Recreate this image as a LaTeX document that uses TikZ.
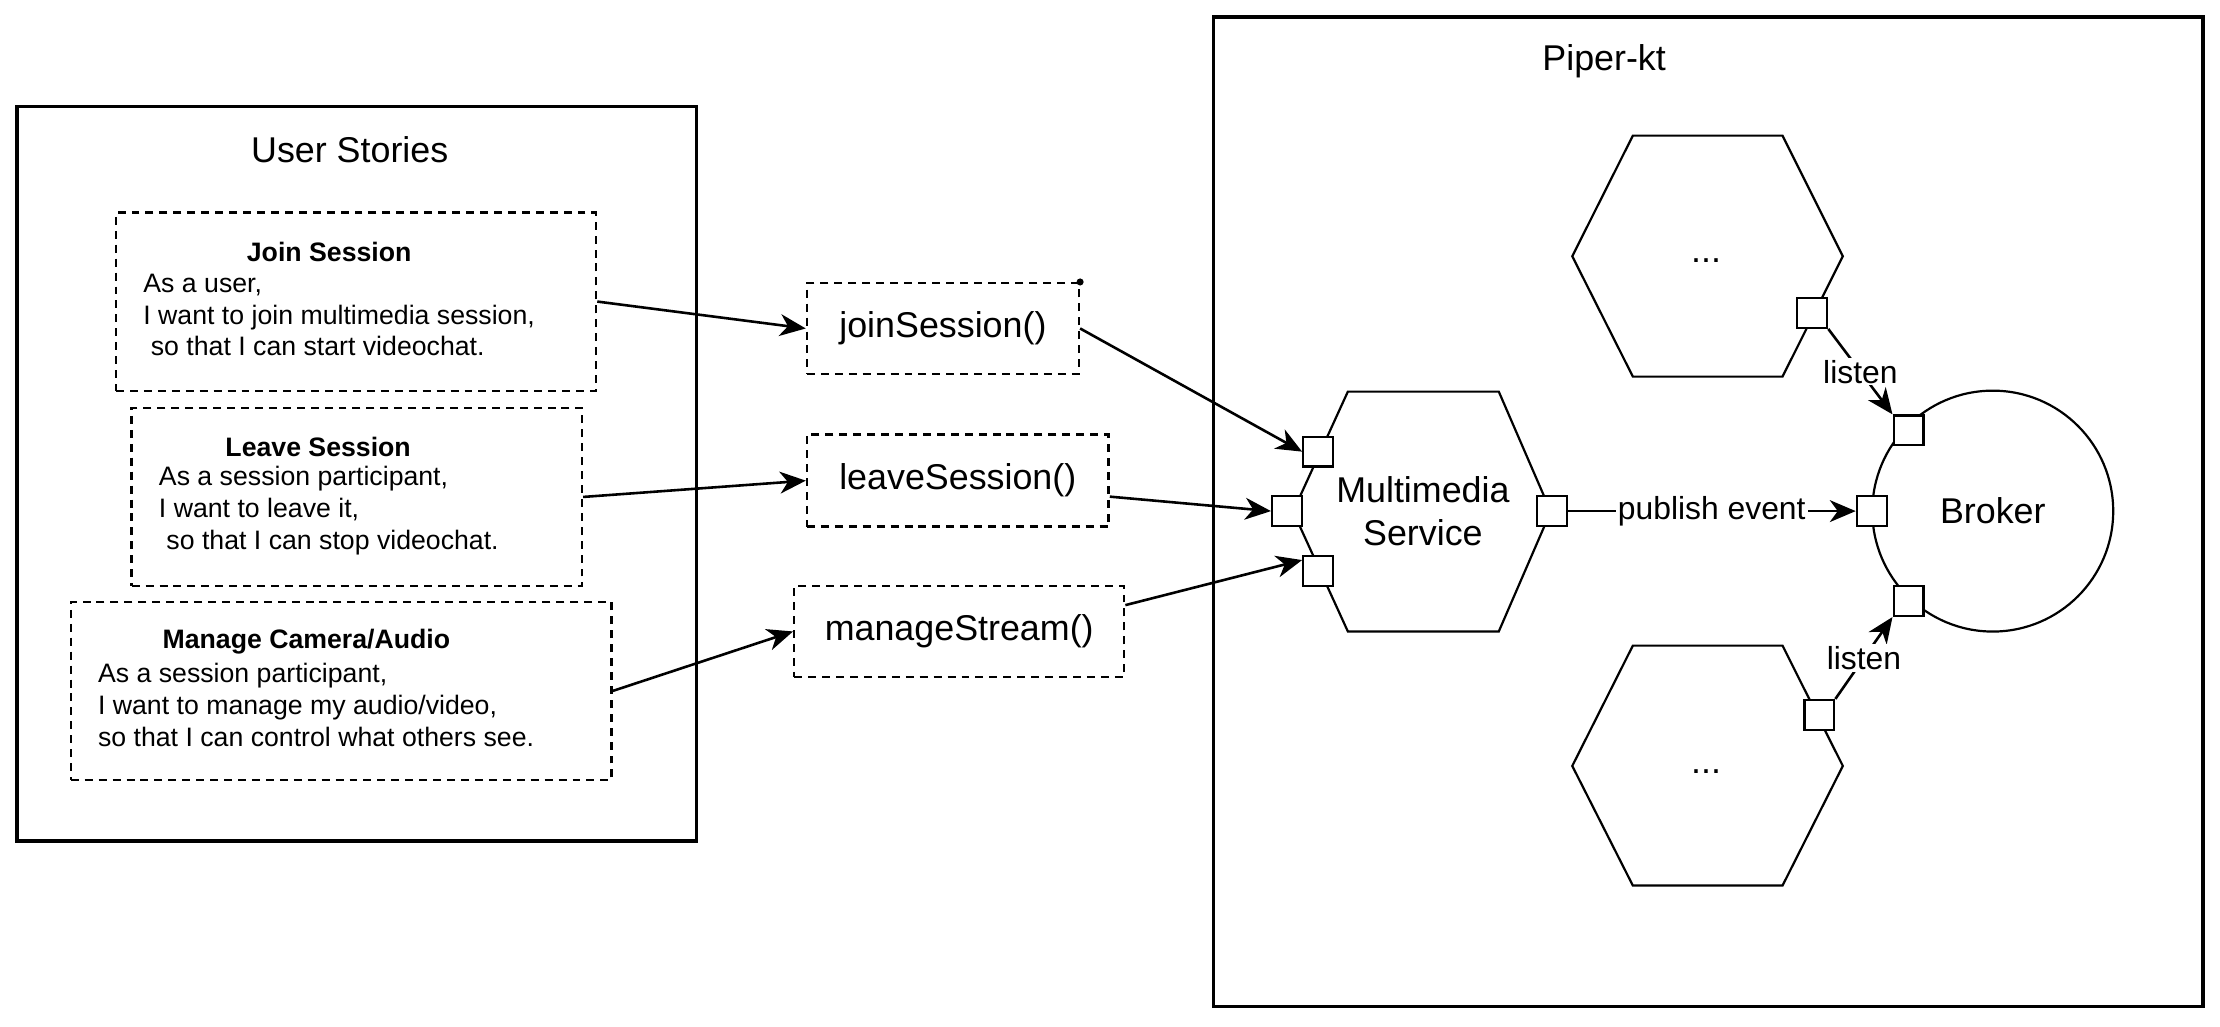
\documentclass[tikz,border=0pt]{standalone}
\usepackage{fontspec}
\setmainfont{Liberation Sans}
\usetikzlibrary{arrows.meta,fit}

\begin{document}
\begin{tikzpicture}[x=0.025cm, y=-0.025cm,
    story/.style={draw, dash pattern=on 4pt off 3pt, line width=1.2pt, inner sep=0pt},
    call/.style={story, font=\fontsize{18}{22}\selectfont},
    storytitle/.style={font=\fontsize{13.4}{16}\selectfont\bfseries, inner sep=0pt},
    storytext/.style={font=\fontsize{13.4}{16}\selectfont, align=left, anchor=west, inner sep=0pt},
    port/.style={draw, fill=white, line width=1.1pt, minimum size=15pt, inner sep=0pt},
    arr/.style={line width=1.3pt, -{Stealth[length=13pt, width=11pt, inset=4pt]}},
    lbl/.style={fill=white, inner sep=1pt, font=\fontsize{16}{19}\selectfont},
    big/.style={font=\fontsize{18}{22}\selectfont}]

  % Fix the size of the picture
  \useasboundingbox (0,0) rectangle (1568,724.7);

  % Draw the User Stories container
  \draw[line width=1.6pt] (12,75) rectangle (492,594);
  \node[big] (ustitle) at (247,106) {User Stories};

  % Draw the three stories
  \node[story, fit={(82,150) (421,276)}] (jsstory) {};
  \node[storytitle] (jstitle) at (232.5,178) {Join Session};
  \node[storytext] (jstext) at (101,222.5) {As a user,\\I want to join multimedia session,\\\hspace*{.28em}so that I can start videochat.};

  \node[story, fit={(93,288) (411,414)}] (lsstory) {};
  \node[storytitle] (lstitle) at (224.7,316) {Leave Session};
  \node[storytext] (lstext) at (112,360.5) {As a session participant,\\I want to leave it,\\\hspace*{.28em}so that I can stop videochat.};

  \node[story, fit={(50,425) (432,551)}] (mcstory) {};
  \node[storytitle] (mctitle) at (216.4,453) {Manage Camera/Audio};
  \node[storytext] (mctext) at (69,498) {As a session participant,\\I want to manage my audio/video,\\so that I can control what others see.};

  % Draw the calls
  \node[call, minimum width=136.6pt, minimum height=45.5pt] (jscall) at (666,232) {joinSession()};
  \node[call, minimum width=151.5pt, minimum height=46.2pt] (lscall) at (676.5,339.5) {leaveSession()};
  \node[call, minimum width=165.7pt, minimum height=45.5pt] (mscall) at (677.5,446) {manageStream()};
  \fill (jscall.north east) circle (2.5);

  % Draw the Piper-kt container
  \draw[line width=1.6pt] (857,12) rectangle (1556,711);
  \node[big] (pktitle) at (1133,43) {Piper-kt};

  % Draw the hexagons
  \draw[line width=1.1pt] (913.3,361.3) -- (952,276.6) -- (1058.6,276.6) -- (1095.3,361.3) -- (1058.6,446) -- (952,446) -- cycle;
  \node[big, align=center] (mmsvc) at (1005,361) {Multimedia\\Service};
  \draw[line width=1.1pt] (1110.5,181) -- (1153.3,95.8) -- (1259,95.8) -- (1301.6,181) -- (1259,266) -- (1153.3,266) -- cycle;
  \node[big] (uphex) at (1205,184) {...};
  \draw[line width=1.1pt] (1110.5,541) -- (1153.3,456) -- (1259,456) -- (1301.6,541) -- (1259,625.5) -- (1153.3,625.5) -- cycle;
  \node[big] (lowhex) at (1205,545) {...};

  % Draw the broker
  \node[draw, circle, line width=1.1pt, minimum size=121pt, big] (broker) at (1407.5,361) {Broker};

  % Draw the ports
  \node[port] (p1) at (931,319) {};
  \node[port] (p2) at (909,361) {};
  \node[port] (p3) at (931,403.5) {};
  \node[port] (pout) at (1096,361) {};
  \node[port] (bt) at (1348,304) {};
  \node[port] (bl) at (1322,361) {};
  \node[port] (bb) at (1348,424.5) {};
  \node[port] (ht) at (1280,221) {};
  \node[port] (hb) at (1285,505) {};

  % Draw the arrows
  \draw[arr] (jsstory.east) -- (jscall.west);
  \draw[arr] (lsstory.east) -- (lscall.west);
  \draw[arr] (mcstory.east) -- (mscall.west);
  \draw[arr] (jscall.east) -- (p1.west);
  \draw[arr] (lscall.-6) -- (p2.west);
  \draw[arr] (mscall.9) -- (p3.145);
  \draw[arr] (pout) -- node[lbl] (pubtext) {publish event} (bl);
  \draw[arr] (ht.south east) -- node[lbl] (uplisten) {listen} (bt.north west);
  \draw[arr] (hb.north east) -- node[lbl] (lowlisten) {listen} (bb.south west);
\end{tikzpicture}
\end{document}
